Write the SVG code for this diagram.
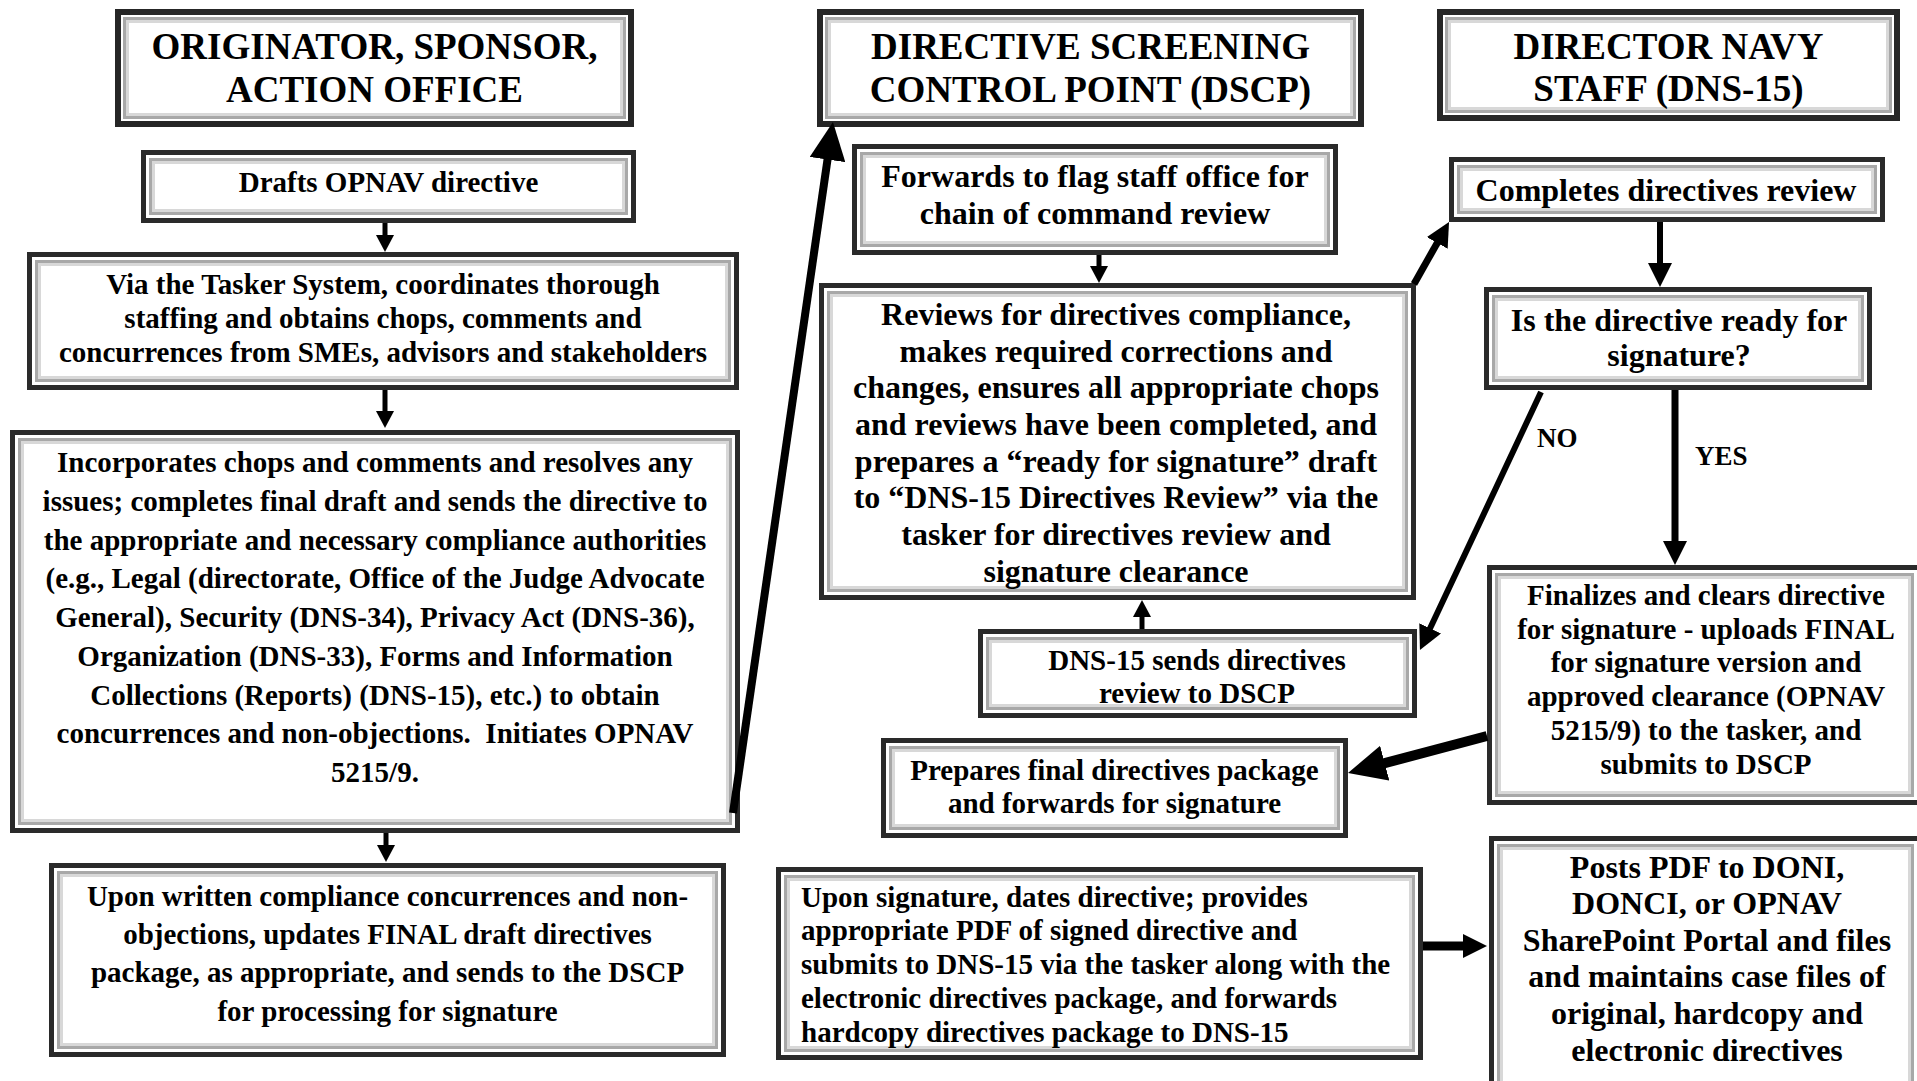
<svg xmlns="http://www.w3.org/2000/svg" width="1917" height="1081" viewBox="0 0 1917 1081">
<style>
  .ob{fill:#fff;stroke:#2a2a2a;stroke-width:5}
  .obh{fill:#fff;stroke:#262626;stroke-width:6}
  .bv{fill:#fff;stroke:#a8a8a8;stroke-width:3}
  .sh{fill:none;stroke:#d8d8d8;stroke-width:3}
  text{font-family:"Liberation Serif","Times New Roman",serif;font-weight:bold;fill:#000}
  .hd{font-size:37px;text-anchor:middle}
  .t29{font-size:29px;text-anchor:middle}
  .t32{font-size:32px;text-anchor:middle}
  .tl{font-size:29px;text-anchor:start}
  .lb{font-size:27px}
  .cn{fill:none;stroke:#000;stroke-linecap:butt}
</style>
<defs>
  <marker id="aS" markerUnits="userSpaceOnUse" markerWidth="18" markerHeight="18" refX="2" refY="9" orient="auto"><path d="M0,0 L17,9 L0,18 z" fill="#000"/></marker>
  <marker id="aM" markerUnits="userSpaceOnUse" markerWidth="24" markerHeight="24" refX="2" refY="12" orient="auto"><path d="M0,0 L24,12 L0,24 z" fill="#000"/></marker>
  <marker id="aL" markerUnits="userSpaceOnUse" markerWidth="38" markerHeight="36" refX="2" refY="18" orient="auto"><path d="M0,0 L38,18 L0,36 z" fill="#000"/></marker>
</defs>
<rect x="0" y="0" width="1917" height="1081" fill="#fff"/>

<g id="n-h1">
  <rect class="obh" x="118" y="12" width="513" height="112"/>
  <rect class="bv" x="124.5" y="18.5" width="500" height="99"/>
  <rect class="sh" x="127.5" y="21.5" width="494" height="93"/>
  <text class="hd" x="374.5" y="59">ORIGINATOR, SPONSOR,</text>
  <text class="hd" x="374.5" y="102">ACTION OFFICE</text>
</g>
<g id="n-drafts">
  <rect class="ob" x="143.5" y="152.5" width="490" height="68"/>
  <rect class="bv" x="150.5" y="159.5" width="476" height="54"/>
  <rect class="sh" x="153.5" y="162.5" width="470" height="48"/>
  <text class="t29" x="388.5" y="192">Drafts OPNAV directive</text>
</g>
<g id="n-via">
  <rect class="ob" x="29.5" y="254.5" width="707" height="133"/>
  <rect class="bv" x="36.5" y="261.5" width="693" height="119"/>
  <rect class="sh" x="39.5" y="264.5" width="687" height="113"/>
  <text class="t29" x="383" y="294">Via the Tasker System, coordinates thorough</text>
  <text class="t29" x="383" y="328">staffing and obtains chops, comments and</text>
  <text class="t29" x="383" y="362">concurrences from SMEs, advisors and stakeholders</text>
</g>
<g id="n-inc">
  <rect class="ob" x="12.5" y="432.5" width="725" height="398"/>
  <rect class="bv" x="19.5" y="439.5" width="711" height="384"/>
  <rect class="sh" x="22.5" y="442.5" width="705" height="378"/>
  <text class="t29" x="375" y="472">Incorporates chops and comments and resolves any</text>
  <text class="t29" x="375" y="510.75">issues; completes final draft and sends the directive to</text>
  <text class="t29" x="375" y="549.5">the appropriate and necessary compliance authorities</text>
  <text class="t29" x="375" y="588.25">(e.g., Legal (directorate, Office of the Judge Advocate</text>
  <text class="t29" x="375" y="627">General), Security (DNS-34), Privacy Act (DNS-36),</text>
  <text class="t29" x="375" y="665.75">Organization (DNS-33), Forms and Information</text>
  <text class="t29" x="375" y="704.5">Collections (Reports) (DNS-15), etc.) to obtain</text>
  <text class="t29" x="375" y="743.25">concurrences and non-objections.&#160; Initiates OPNAV</text>
  <text class="t29" x="375" y="782">5215/9.</text>
</g>
<g id="n-upon1">
  <rect class="ob" x="51.5" y="865.5" width="672" height="189"/>
  <rect class="bv" x="58.5" y="872.5" width="658" height="175"/>
  <rect class="sh" x="61.5" y="875.5" width="652" height="169"/>
  <text class="t29" x="387.5" y="906">Upon written compliance concurrences and non-</text>
  <text class="t29" x="387.5" y="944">objections, updates FINAL draft directives</text>
  <text class="t29" x="387.5" y="982">package, as appropriate, and sends to the DSCP</text>
  <text class="t29" x="387.5" y="1021">for processing for signature</text>
</g>

<g id="n-h2">
  <rect class="obh" x="820" y="12" width="541" height="112"/>
  <rect class="bv" x="826.5" y="18.5" width="528" height="99"/>
  <rect class="sh" x="829.5" y="21.5" width="522" height="93"/>
  <text class="hd" x="1090.5" y="59">DIRECTIVE SCREENING</text>
  <text class="hd" x="1090.5" y="102">CONTROL POINT (DSCP)</text>
</g>
<g id="n-fwd">
  <rect class="ob" x="854.5" y="146.5" width="481" height="106"/>
  <rect class="bv" x="861.5" y="153.5" width="467" height="92"/>
  <rect class="sh" x="864.5" y="156.5" width="461" height="86"/>
  <text class="t32" x="1095" y="187">Forwards to flag staff office for</text>
  <text class="t32" x="1095" y="224">chain of command review</text>
</g>
<g id="n-rev">
  <rect class="ob" x="821.5" y="285.5" width="592" height="312"/>
  <rect class="bv" x="828.5" y="292.5" width="578" height="298"/>
  <rect class="sh" x="831.5" y="295.5" width="572" height="292"/>
  <text class="t32" x="1116" y="325">Reviews for directives compliance,</text>
  <text class="t32" x="1116" y="362">makes required corrections and</text>
  <text class="t32" x="1116" y="398">changes, ensures all appropriate chops</text>
  <text class="t32" x="1116" y="435">and reviews have been completed, and</text>
  <text class="t32" x="1116" y="472">prepares a “ready for signature” draft</text>
  <text class="t32" x="1116" y="508">to “DNS-15 Directives Review” via the</text>
  <text class="t32" x="1116" y="545">tasker for directives review and</text>
  <text class="t32" x="1116" y="582">signature clearance</text>
</g>
<g id="n-dns15">
  <rect class="ob" x="980.5" y="631.5" width="434" height="84"/>
  <rect class="bv" x="987.5" y="638.5" width="420" height="70"/>
  <rect class="sh" x="990.5" y="641.5" width="414" height="64"/>
  <text class="t29" x="1197" y="670">DNS-15 sends directives</text>
  <text class="t29" x="1197" y="703">review to DSCP</text>
</g>
<g id="n-prep">
  <rect class="ob" x="883.5" y="740.5" width="462" height="95"/>
  <rect class="bv" x="890.5" y="747.5" width="448" height="81"/>
  <rect class="sh" x="893.5" y="750.5" width="442" height="75"/>
  <text class="t29" x="1114.5" y="780">Prepares final directives package</text>
  <text class="t29" x="1114.5" y="813">and forwards for signature</text>
</g>
<g id="n-upon2">
  <rect class="ob" x="778.5" y="869.5" width="642" height="188"/>
  <rect class="bv" x="785.5" y="876.5" width="628" height="174"/>
  <rect class="sh" x="788.5" y="879.5" width="622" height="168"/>
  <text class="tl" x="801" y="907">Upon signature, dates directive; provides</text>
  <text class="tl" x="801" y="940">appropriate PDF of signed directive and</text>
  <text class="tl" x="801" y="974">submits to DNS-15 via the tasker along with the</text>
  <text class="tl" x="801" y="1008">electronic directives package, and forwards</text>
  <text class="tl" x="801" y="1042">hardcopy directives package to DNS-15</text>
</g>

<g id="n-h3">
  <rect class="obh" x="1440" y="12" width="457" height="106"/>
  <rect class="bv" x="1446.5" y="18.5" width="444" height="93"/>
  <rect class="sh" x="1449.5" y="21.5" width="438" height="87"/>
  <text class="hd" x="1668.5" y="59">DIRECTOR NAVY</text>
  <text class="hd" x="1668.5" y="101">STAFF (DNS-15)</text>
</g>
<g id="n-comp">
  <rect class="ob" x="1451.5" y="159.5" width="431" height="60"/>
  <rect class="bv" x="1458.5" y="166.5" width="417" height="46"/>
  <rect class="sh" x="1461.5" y="169.5" width="411" height="40"/>
  <text class="t32" x="1666" y="201">Completes directives review</text>
</g>
<g id="n-is">
  <rect class="ob" x="1486.5" y="289.5" width="383" height="98"/>
  <rect class="bv" x="1493.5" y="296.5" width="369" height="84"/>
  <rect class="sh" x="1496.5" y="299.5" width="363" height="78"/>
  <text class="t32" x="1679" y="331">Is the directive ready for</text>
  <text class="t32" x="1679" y="366">signature?</text>
</g>
<g id="n-fin">
  <rect class="ob" x="1489.5" y="567.5" width="430" height="235"/>
  <rect class="bv" x="1496.5" y="574.5" width="416" height="221"/>
  <rect class="sh" x="1499.5" y="577.5" width="410" height="215"/>
  <text class="t29" x="1706" y="605">Finalizes and clears directive</text>
  <text class="t29" x="1706" y="639">for signature - uploads FINAL</text>
  <text class="t29" x="1706" y="672">for signature version and</text>
  <text class="t29" x="1706" y="706">approved clearance (OPNAV</text>
  <text class="t29" x="1706" y="740">5215/9) to the tasker, and</text>
  <text class="t29" x="1706" y="774">submits to DSCP</text>
</g>
<g id="n-posts">
  <rect class="ob" x="1491.5" y="838.5" width="428" height="254"/>
  <rect class="bv" x="1498.5" y="845.5" width="414" height="240"/>
  <rect class="sh" x="1501.5" y="848.5" width="408" height="234"/>
  <text class="t32" x="1707" y="878">Posts PDF to DONI,</text>
  <text class="t32" x="1707" y="914">DONCI, or OPNAV</text>
  <text class="t32" x="1707" y="951">SharePoint Portal and files</text>
  <text class="t32" x="1707" y="987">and maintains case files of</text>
  <text class="t32" x="1707" y="1024">original, hardcopy and</text>
  <text class="t32" x="1707" y="1061">electronic directives</text>
</g>

<g id="connectors">
  <line class="cn" x1="385" y1="223" x2="385" y2="237" stroke-width="5" marker-end="url(#aS)"/>
  <line class="cn" x1="385" y1="390" x2="385" y2="413" stroke-width="5" marker-end="url(#aS)"/>
  <line class="cn" x1="386" y1="833" x2="386" y2="847" stroke-width="5" marker-end="url(#aS)"/>
  <line class="cn" x1="733" y1="813" x2="827.8" y2="157.6" stroke-width="8" marker-end="url(#aL)"/>
  <line class="cn" x1="1099" y1="255" x2="1099" y2="268" stroke-width="5" marker-end="url(#aS)"/>
  <line class="cn" x1="1142" y1="629" x2="1142" y2="615" stroke-width="5" marker-end="url(#aS)"/>
  <line class="cn" x1="1414" y1="284" x2="1438.2" y2="241.2" stroke-width="7" marker-end="url(#aM)"/>
  <line class="cn" x1="1660" y1="222" x2="1660" y2="265" stroke-width="6" marker-end="url(#aM)"/>
  <line class="cn" x1="1675" y1="390" x2="1675" y2="543" stroke-width="7" marker-end="url(#aM)"/>
  <line class="cn" x1="1541" y1="392" x2="1429.3" y2="630.1" stroke-width="6" marker-end="url(#aM)"/>
  <line class="cn" x1="1487" y1="736" x2="1382.8" y2="763.7" stroke-width="10" marker-end="url(#aL)"/>
  <line class="cn" x1="1423" y1="946" x2="1465" y2="946" stroke-width="9" marker-end="url(#aM)"/>
  <text class="lb" x="1537" y="447">NO</text>
  <text class="lb" x="1695" y="465">YES</text>
</g>
</svg>
